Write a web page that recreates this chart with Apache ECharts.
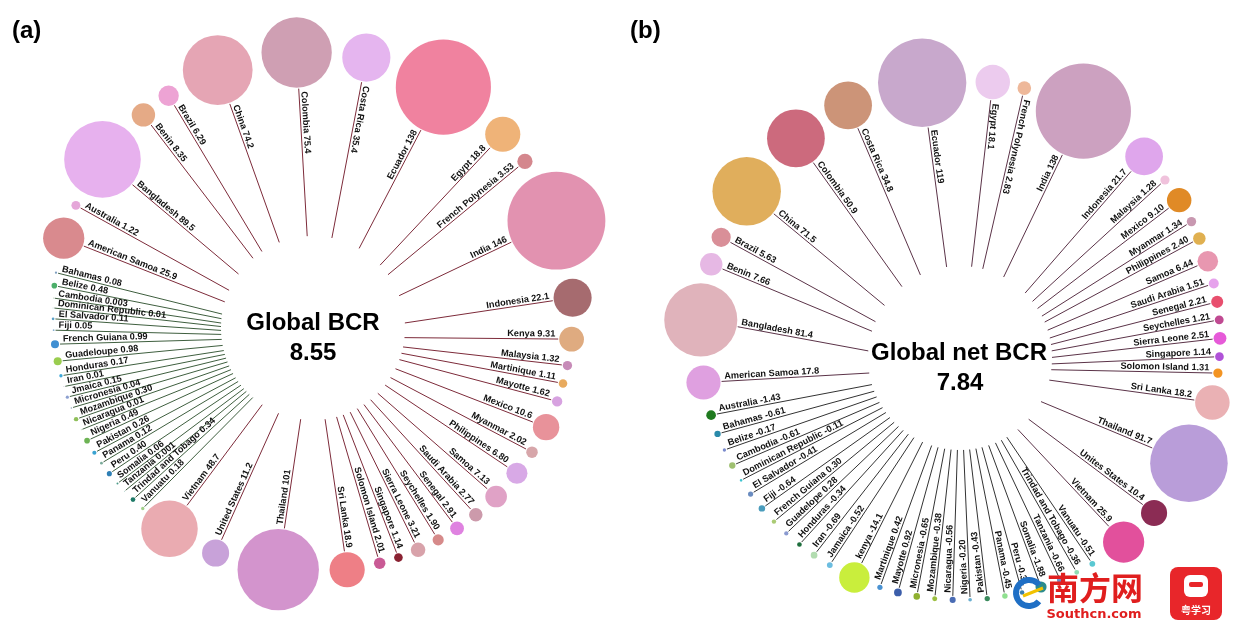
<!DOCTYPE html>
<html><head><meta charset="utf-8">
<script src="https://cdn.jsdelivr.net/npm/echarts@6/dist/echarts.min.js"></script>
<style>html,body{margin:0;padding:0;background:#fff}#c{width:1249px;height:625px}</style>
</head><body><div id="c"></div>
<script>
// ---------- Panel (a): BCR ----------
const aBigNames = ['American Samoa','Australia','Bangladesh','Benin','Brazil','China','Colombia','Costa Rica','Ecuador','Egypt','French Polynesia','India','Indonesia','Kenya','Malaysia','Martinique','Mayotte','Mexico','Myanmar','Philippines','Samoa','Saudi Arabia','Senegal','Seychelles','Sierra Leone','Singapore','Solomon Island','Sri Lanka','Thailand','United States','Vietnam'];
const aBigValues = ['25.9','1.22','89.5','8.35','6.29','74.2','75.4','35.4','138','18.8','3.53','146','22.1','9.31','1.32','1.11','1.62','10.6','2.02','6.80','7.13','2.77','2.91','1.90','3.21','1.14','2.01','18.9','101','11.2','48.7'];
const aBigColors = ['#d98a8e','#e5a7d9','#e7b1ee','#e5aa86','#eda3d4','#e5a5b4','#cf9fb3','#e5b5ef','#f0829f','#efb378','#d4878d','#e292b0','#a66b6f','#dfab80','#c78bb8','#e8aa5e','#d7a2e0','#e8929a','#d7a6aa','#d8a9e6','#e0a2c6','#cc9aab','#df82e0','#d68a8a','#d8a2aa','#8a2232','#c95a95','#ee7f86','#d394cd','#c8a2d9','#eaabb1'];
const aSmallNames = ['Vanuatu','Trindad and Tobago','Tanzania','Somalia','Peru','Panama','Pakistan','Nigeria','Nicaragua','Mozambique','Micronesia','Jmaica','Iran','Honduras','Guadeloupe','French Guiana','Fiji','El Salvador','Dominican Republic','Cambodia','Belize','Bahamas'];
const aSmallValues = ['0.18','0.34','0.001','0.06','0.40','0.12','0.26','0.49','0.01','0.30','0.04','0.15','0.01','0.17','0.98','0.99','0.05','0.11','0.01','0.003','0.48','0.08'];
const aSmallColors = ['#a2d08c','#1f7a68','#4a9a88','#4a9a88','#2f7fb5','#7aaa99','#3aa3d1','#6db354','#6aaa6a','#8fbf5a','#99aabb','#8c9fd0','#8888aa','#3ea7d8','#9acd4f','#3f8fd2','#8ab0d0','#5aa0c8','#77aaaa','#77aa77','#4caf6a','#7f9fbf'];

// ---------- Panel (b): net BCR ----------
const bBigNames = ['American Samoa','Bangladesh','Benin','Brazil','China','Colombia','Costa Rica','Ecuador','Egypt','French Polynesia','India','Indonesia','Malaysia','Mexico','Myanmar','Philippines','Samoa','Saudi Arabia','Senegal','Seychelles','Sierra Leone','Singapore','Solomon Island','Sri Lanka','Thailand','Unites States','Vietnam'];
const bBigValues = ['17.8','81.4','7.66','5.63','71.5','50.9','34.8','119','18.1','2.83','138','21.7','1.28','9.10','1.34','2.40','6.44','1.51','2.21','1.21','2.51','1.14','1.31','18.2','91.7','10.4','25.9'];
const bBigColors = ['#dfa0e0','#e0b3bb','#e6b8e4','#d98f98','#e0ae5c','#cc6a7d','#cc9478','#c8a8cc','#eccbee','#eeb89a','#cca1c0','#dfa6ec','#f0c2dc','#e08a26','#c898b0','#e0b050','#e897b0','#e6a2ec','#e84f6e','#c04a92','#e65ad8','#b052d8','#f39422','#eab1b4','#b99dd9','#8b2c54','#e2509c'];
const bSmallNames = ['Vanuatu','Trindad and Tobago','Tanzania','Somalia','Peru','Panama','Pakistan','Nigeria','Nicaragua','Mozambique','Micronesia','Mayotte','Martinique','kenya','Jamaica','Iran','Honduras','Guadelope','French Guiana','Fiji','El Salvador','Dominican Republic','Cambodia','Belize','Bahamas','Australia'];
const bSmallValues = ['-0.51','-0.36','-0.66','-1.88','-0.31','-0.45','-0.43','-0.20','-0.56','-0.38','-0.65','0.92','0.42','-14.1','-0.52','-0.69','-0.34','0.28','0.30','-0.64','-0.41','-0.11','-0.61','-0.17','-0.61','-1.43'];
const bSmallColors = ['#5ac8d2','#8fdcb4','#6c8fcc','#2b8c8c','#3a7fb0','#8fe08f','#3a8a5c','#6aaed0','#4a6cb4','#9cbf40','#8fb030','#3c5eaa','#4a92d2','#c9ee3c','#6cbde0','#b2dcb0','#1e6e3c','#8a9ad0','#aacb74','#4a9cbc','#6a8cc0','#40c4d0','#9fc070','#7a8acc','#2a8aaa','#1f7a1f'];

// ---------- layout constants ----------
const K = 4.05;           // bubble radius = K * sqrt(|value|)
const RC = 260;           // radius of bubble ring
const RIN = 92;           // radius where spokes start
function bubbleR(v){ return Math.max(K*Math.sqrt(Math.abs(v)), 0.4); }
function spread(vals, start, end, gap){
  const r = vals.map(v => bubbleR(+v));
  const cum = [0];
  for (let i = 1; i < r.length; i++) cum.push(cum[i-1] + r[i-1] + r[i] + gap);
  const tot = cum[cum.length-1];
  return cum.map(c => (start + (end - start) * c / tot) % 360);
}

const chart = echarts.init(document.getElementById('c'));

function buildPanel(cfg){
  const items = [];
  const bigA = spread(cfg.bigValues, cfg.bigStart, cfg.bigEnd, cfg.bigGap);
  const smallA = spread(cfg.smallValues, cfg.smallStart, cfg.smallEnd, cfg.smallGap);
  cfg.bigNames.forEach((n,i) => items.push({name:n, val:cfg.bigValues[i], color:cfg.bigColors[i], th:bigA[i], line:cfg.lineBig}));
  cfg.smallNames.forEach((n,i) => items.push({name:n, val:cfg.smallValues[i], color:cfg.smallColors[i], th:smallA[i], line:cfg.lineSmall}));
  return {
    type:'custom', coordinateSystem:'polar', polarIndex: cfg.outerPolar, silent:true,
    data: items.map(it => [RC, it.th]),
    renderItem: function(params, api){
      const it = items[params.dataIndex];
      const th = api.value(1);
      const c = api.coord([RC, th]);
      const p = chart.convertToPixel({polarIndex: cfg.innerPolar}, [RIN, th]);
      const r = bubbleR(+it.val);
      const dx = c[0]-p[0], dy = c[1]-p[1];
      const L = Math.hypot(dx, dy);
      const ux = dx/L, uy = dy/L;
      const endLen = L - r - 1;
      const q = [p[0]+ux*endLen, p[1]+uy*endLen];
      const outward = th >= cfg.flipLo && th < cfg.flipHi;
      const d = outward ? [ux, uy] : [-ux, -uy];
      const rot = -Math.atan2(d[1], d[0]);
      const gap = 3;
      const ax = q[0] - ux*gap + d[1]*0.5, ay = q[1] - uy*gap - d[0]*0.5;
      return {type:'group', children:[
        {type:'line', shape:{x1:p[0], y1:p[1], x2:q[0], y2:q[1]}, style:{stroke:it.line, lineWidth:1}},
        {type:'circle', shape:{cx:c[0], cy:c[1], r:r}, style:{fill:it.color}},
        {type:'text', x:ax, y:ay, rotation:rot, z2:5,
          style:{text: it.name + ' ' + it.val, fill:'#111', fontSize:9.2, fontWeight:'bold',
                 fontFamily:'Arial, "Liberation Sans", sans-serif',
                 align: outward ? 'right' : 'left', verticalAlign:'bottom'}}
      ]};
    }
  };
}

const polarDefs = [
  {center:[313,312], radius:RC},  // (a) bubble ring
  {center:[313,328], radius:RC},  // (a) spoke origin
  {center:[960,340], radius:RC},  // (b) bubble ring
  {center:[960,358], radius:RC}   // (b) spoke origin
];

const option = {
  animation:false,
  backgroundColor:'#fff',
  polar: polarDefs,
  angleAxis: polarDefs.map((p,i) => ({polarIndex:i, type:'value', min:0, max:360, startAngle:90, clockwise:true, show:false})),
  radiusAxis: polarDefs.map((p,i) => ({polarIndex:i, type:'value', min:0, max:RC, show:false})),
  series: [
    buildPanel({outerPolar:0, innerPolar:1, bigNames:aBigNames, bigValues:aBigValues, bigColors:aBigColors,
      smallNames:aSmallNames, smallValues:aSmallValues, smallColors:aSmallColors,
      bigStart:286.5, bigEnd:573.5, bigGap:9, smallStart:580.9, smallEnd:638.7, smallGap:9,
      lineBig:'#7d2b3a', lineSmall:'#3f5f3f', flipLo:25, flipHi:180}),
    buildPanel({outerPolar:2, innerPolar:3, bigNames:bBigNames, bigValues:bBigValues, bigColors:bBigColors,
      smallNames:bSmallNames, smallValues:bSmallValues, smallColors:bSmallColors,
      bigStart:260.6, bigEnd:501.0, bigGap:7, smallStart:149.4, smallEnd:253.2, smallGap:18,
      lineBig:'#5b3348', lineSmall:'#333333', flipLo:25, flipHi:171})
  ],
  graphic: [
    {type:'text', x:12, y:31, style:{text:'(a)', font:'bold 24px Arial, "Liberation Sans", sans-serif', fill:'#000', verticalAlign:'middle'}},
    {type:'text', x:630, y:31, style:{text:'(b)', font:'bold 24px Arial, "Liberation Sans", sans-serif', fill:'#000', verticalAlign:'middle'}},
    {type:'text', x:313, y:323, style:{text:'Global BCR', font:'bold 24px Arial, "Liberation Sans", sans-serif', fill:'#000', align:'center', verticalAlign:'middle'}},
    {type:'text', x:313, y:353, style:{text:'8.55', font:'bold 24px Arial, "Liberation Sans", sans-serif', fill:'#000', align:'center', verticalAlign:'middle'}},
    {type:'text', x:959, y:353, style:{text:'Global net BCR', font:'bold 24px Arial, "Liberation Sans", sans-serif', fill:'#000', align:'center', verticalAlign:'middle'}},
    {type:'text', x:960, y:383, style:{text:'7.84', font:'bold 24px Arial, "Liberation Sans", sans-serif', fill:'#000', align:'center', verticalAlign:'middle'}},
    // watermark
    {type:'arc', shape:{cx:1029, cy:593, r:13, startAngle:0.7, endAngle:5.6}, style:{stroke:'#1f6fc5', lineWidth:6, fill:null}, z:10},
    {type:'line', shape:{x1:1023, y1:596, x2:1043, y2:588}, style:{stroke:'#f2c200', lineWidth:3}, z:10},
    {type:'text', x:1095, y:588, style:{text:'南方网', font:'bold 32px "Noto Sans CJK SC", sans-serif', fill:'#e01e1e', align:'center', verticalAlign:'middle'}, z:10},
    {type:'text', x:1094, y:615, style:{text:'Southcn.com', font:'bold 13px "DejaVu Sans", sans-serif', fill:'#e01e1e', align:'center', verticalAlign:'middle'}, z:10},
    {type:'rect', shape:{x:1170, y:567, width:52, height:53, r:8}, style:{fill:'#e8262a'}, z:10},
    {type:'rect', shape:{x:1184, y:575, width:24, height:22, r:6}, style:{fill:'#fff'}, z:11},
    {type:'rect', shape:{x:1189, y:582, width:14, height:5, r:2}, style:{fill:'#e8262a'}, z:12},
    {type:'text', x:1196, y:610, style:{text:'粤学习', font:'bold 10px "Noto Sans CJK SC", sans-serif', fill:'#fff', align:'center', verticalAlign:'middle'}, z:11}
  ]
};
chart.setOption(option);
</script>
</body></html>
